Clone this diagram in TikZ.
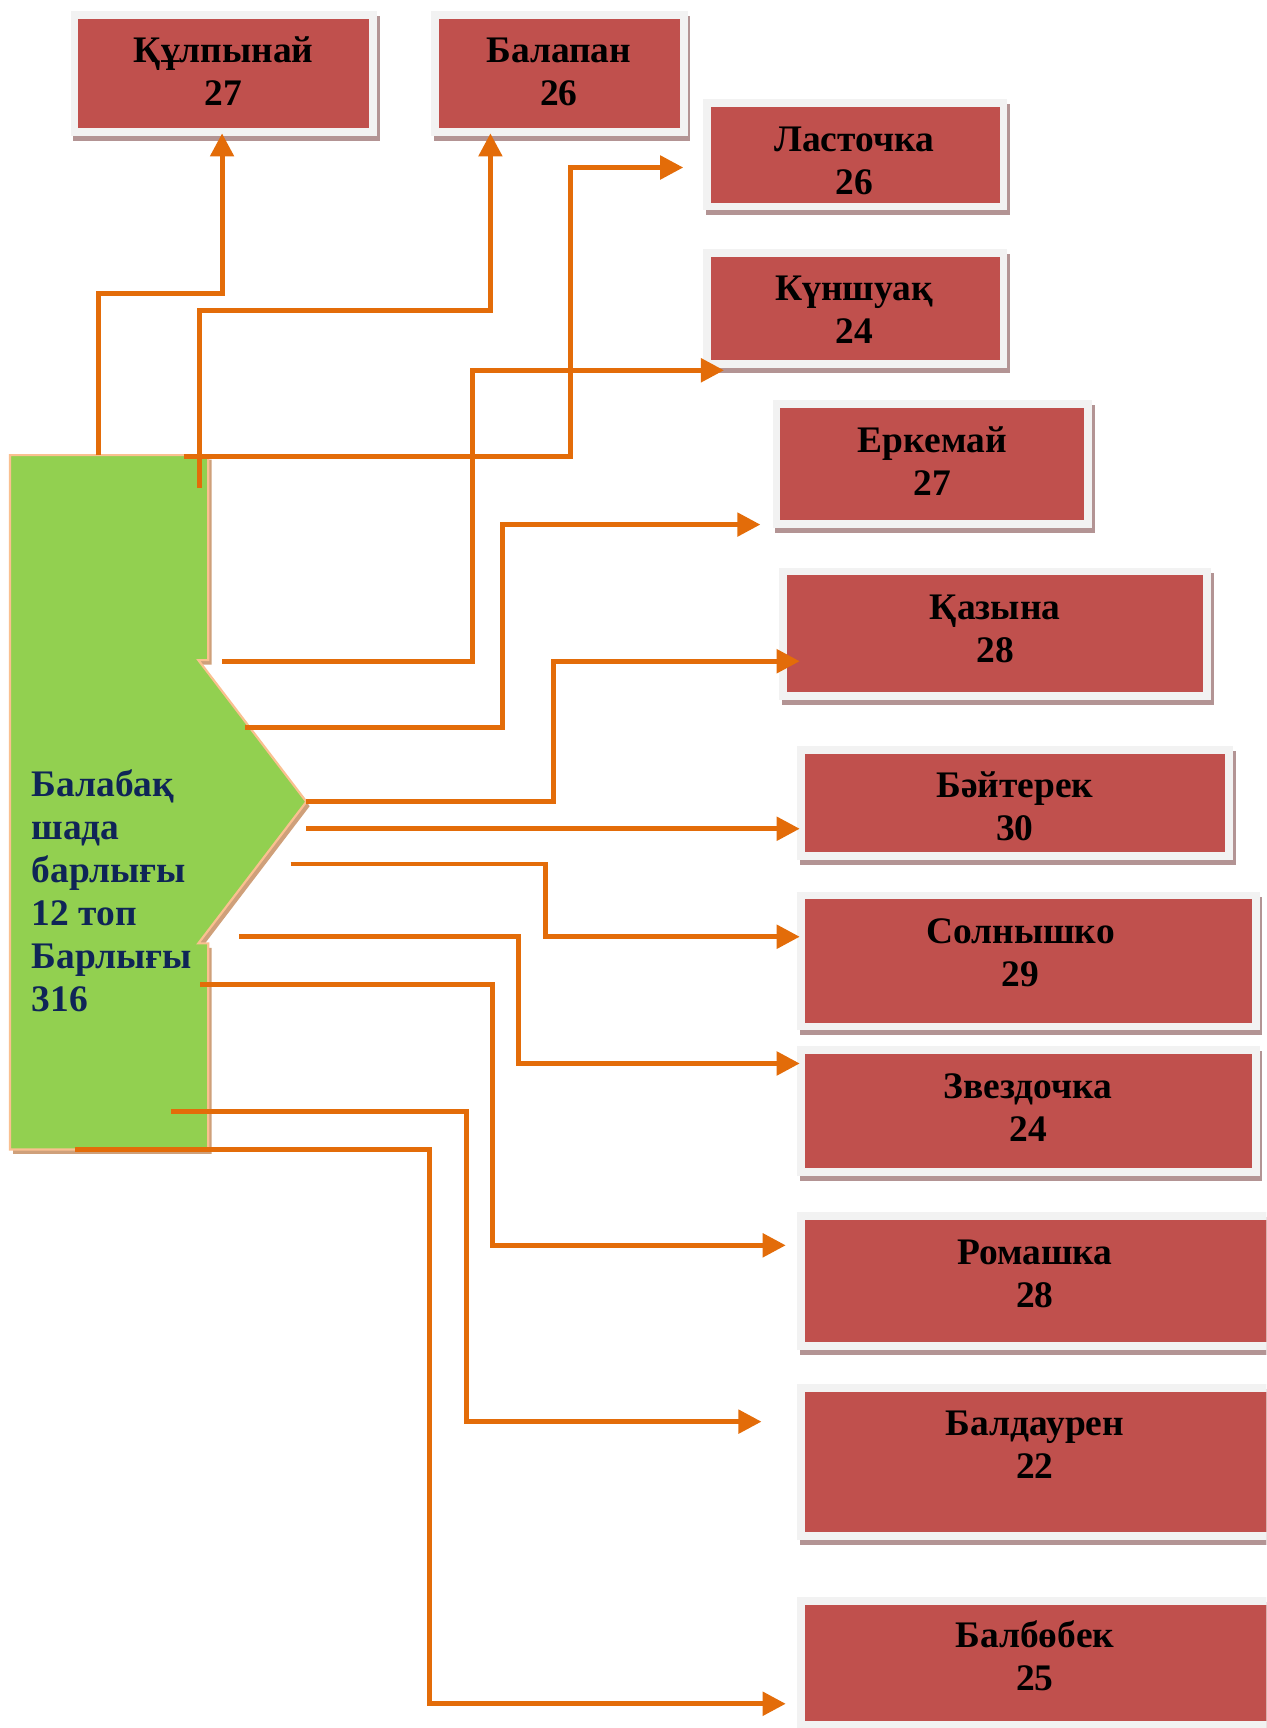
\documentclass[tikz,border=0pt]{standalone}
\usepackage{fontspec}
\setmainfont{Liberation Serif}
\usetikzlibrary{arrows.meta,calc}
\definecolor{boxred}{HTML}{C0504D}
\definecolor{framec}{HTML}{F2F2F2}
\definecolor{shadowc}{HTML}{B39494}
\definecolor{connc}{HTML}{E36C09}
\definecolor{gfill}{HTML}{92D050}
\definecolor{gborder}{HTML}{FAC090}
\definecolor{gshadow}{HTML}{CFA07A}
\definecolor{navy}{HTML}{0F2557}
\tikzset{
  redbox/.style={fill=boxred, inner sep=0pt, outer sep=0pt},
  lbl/.style={inner sep=0pt, outer sep=0pt, text=black, font=\fontsize{34}{39}\selectfont\bfseries},
  glbl/.style={inner sep=0pt, outer sep=0pt, text=navy, font=\fontsize{34}{39}\selectfont\bfseries},
  connector/.style={draw=connc, line width=4.5pt, -{Triangle[length=21pt,width=21pt]}},
}
\newcommand\gbox[5]{%
  \fill[shadowc] ({#2-4.5},{#3-2.5}) rectangle ({#4+9.5},{#5+11.5});
  \fill[framec] ({#2-7},{#3-7}) rectangle ({#4+7},{#5+7});
  \node[redbox, minimum width={#4-#2}, minimum height={#5-#3}] (#1) at ({(#2+#4)/2},{(#3+#5)/2}) {};
}
\newcommand\glabel[5]{%
  \node[lbl, anchor=base] (#1) at (#2,#3) {\begin{tabular}[t]{@{}c@{}}#4\\#5\end{tabular}};
}
\begin{document}
\begin{tikzpicture}[x=1pt, y=-1pt]
\clip (0,0) rectangle (1149,1568);
\fill[white] (0,0) rectangle (1149,1568);

% green source shape
\fill[gshadow] (12,417) -- (192,417) -- (192,603) -- (183,603) -- (281,731.5) -- (183,860) -- (192,860) -- (192,1047) -- (12,1047) -- cycle;
\draw[gborder, line width=2pt, fill=gfill] (9,413) -- (189,413) -- (189,599) -- (180,599) -- (278,727.5) -- (180,856) -- (189,856) -- (189,1043) -- (9,1043) -- cycle;
\node[glbl, anchor=base west] (src) at (28.7,722.6) {\begin{tabular}[t]{@{}l@{}}Балабақ\\шада\\барлығы\\12 топ\\Барлығы\\316\end{tabular}};

% boxes
\gbox{kul}{71}{17}{335}{116}
\gbox{bal}{398}{17}{617}{116}
\gbox{las}{645}{97}{907}{184}
\gbox{kun}{645}{233}{907}{327}
\gbox{erk}{708}{370}{984}{472}
\gbox{kaz}{714}{522}{1092}{628}
\gbox{bai}{730}{684}{1112}{773}
\gbox{sol}{730}{816}{1136}{928}
\gbox{zve}{730}{956}{1136}{1060}
\gbox{rom}{730}{1107}{1170}{1218}
\gbox{bld}{730}{1263}{1170}{1390}
\gbox{bbk}{730}{1456}{1170}{1562}

\glabel{kulT}{203}{57}{Құлпынай}{27}
\glabel{balT}{507}{57}{Балапан}{26}
\glabel{lasT}{775}{137.5}{Ласточка}{26}
\glabel{kunT}{775}{273}{Күншуақ}{24}
\glabel{erkT}{846}{411}{Еркемай}{27}
\glabel{kazT}{903}{562}{Қазына}{28}
\glabel{baiT}{921}{723.5}{Бәйтерек}{30}
\glabel{solT}{926}{856}{Солнышко}{29}
\glabel{zveT}{933}{996.5}{Звездочка}{24}
\glabel{romT}{939}{1147.5}{Ромашка}{28}
\glabel{bldT}{939}{1302.5}{Балдаурен}{22}
\glabel{bbkT}{939}{1495}{Балбөбек}{25}

% connector start points on the source shape
\coordinate (g1) at (89,413);
\coordinate (g2) at (181,443);
\coordinate (g3) at (167,414);
\coordinate (g4) at (201.5,600);
\coordinate (g5) at (222.5,660);
\coordinate (g6) at (278,727.5);
\coordinate (g7) at (278,752);
\coordinate (g8) at (263.8,784);
\coordinate (g9) at (217,850);
\coordinate (g10) at (181.5,893);
\coordinate (g11) at (155,1009);
\coordinate (g12) at (68,1043);
% arrow tips near the boxes
\coordinate (t1) at ($(kul.south)+(-1.5,5)$);
\coordinate (t2) at (445,121);
\coordinate (t3) at (620,152);
\coordinate (t4) at (657,336);
\coordinate (t5) at (690,476);
\coordinate (t6) at (725.7,600);
\coordinate (t7) at (725.7,752);
\coordinate (t8) at (725.7,850);
\coordinate (t9) at (725.7,965);
\coordinate (t10) at (713,1130);
\coordinate (t11) at (691,1290);
\coordinate (t12) at (713,1546);

\draw[connector] (g1) |- (201.5,266) -- (t1);
\draw[connector] (g2) |- (445,282) -- (t2);
\draw[connector] (g3) -| (518,152) -- (t3);
\draw[connector] (g4) -| (429,336) -- (t4);
\draw[connector] (g5) -| (456,476) -- (t5);
\draw[connector] (g6) -| (502,600) -- (t6);
\draw[connector] (g7) -- (t7);
\draw[connector] (g8) -| (494.7,850) -- (t8);
\draw[connector] (g9) -| (470.8,965) -- (t9);
\draw[connector] (g10) -| (447,1130) -- (t10);
\draw[connector] (g11) -| (423,1290) -- (t11);
\draw[connector] (g12) -| (390,1546) -- (t12);
\end{tikzpicture}
\end{document}
